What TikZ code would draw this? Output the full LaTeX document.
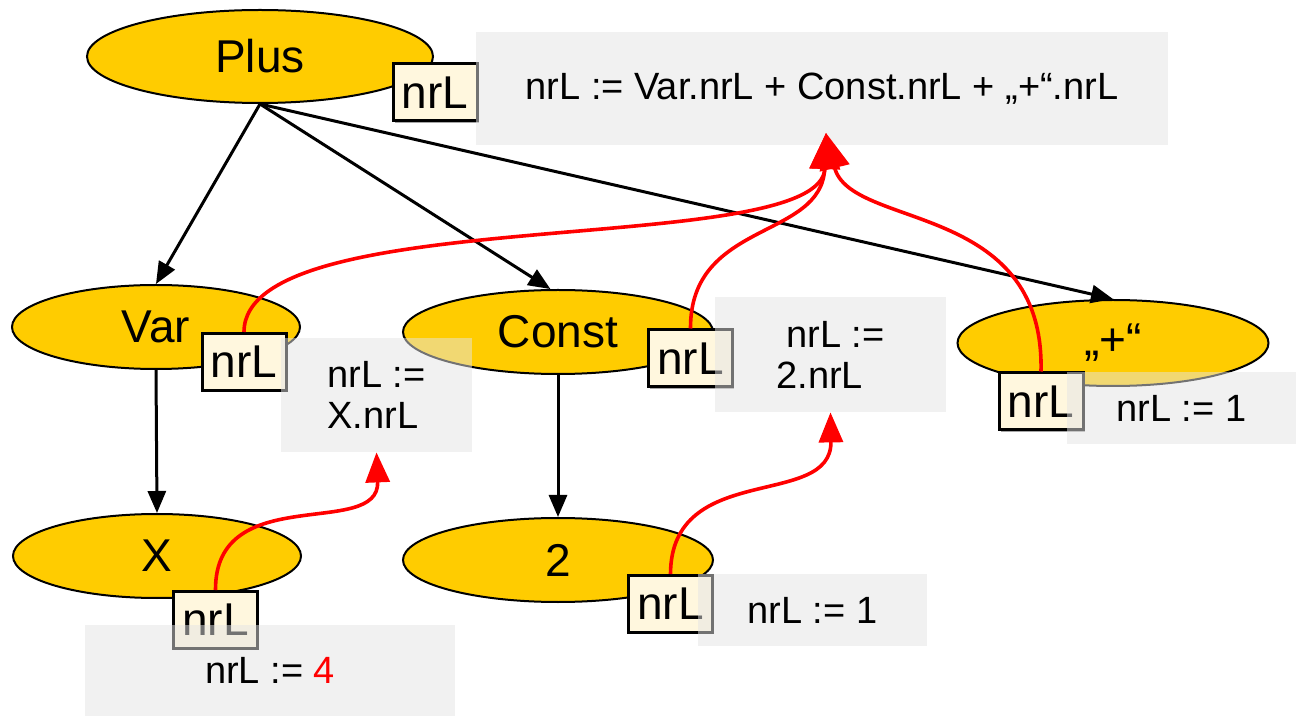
\documentclass[tikz,border=0pt]{standalone}
\usepackage{fontspec}
\setmainfont{Liberation Sans}
\usetikzlibrary{shapes.geometric,arrows.meta,shadows}
\definecolor{nodeyellow}{HTML}{FFCC00}
\definecolor{boxcream}{HTML}{FFF7DE}
\definecolor{notegray}{HTML}{E4E4E4}
\begin{document}
\begin{tikzpicture}[x=0.5pt,y=-0.5pt,
  ast/.style={ellipse, draw=black, line width=1pt, fill=nodeyellow, inner sep=0pt,
    font=\fontsize{23}{27}\selectfont},
  attr/.style={rectangle, draw=black, line width=1.5pt, fill=boxcream, inner sep=0pt,
    minimum width=42pt, minimum height=28.5pt, font=\fontsize{23}{27}\selectfont,
    drop shadow={shadow xshift=0.8pt, shadow yshift=-0.8pt, opacity=0.35, fill=black}},
  note/.style={rectangle, fill=notegray, fill opacity=0.5, text opacity=1, inner sep=0pt,
    font=\fontsize{19}{20.5}\selectfont},
  tree/.style={draw=black, line width=1.5pt, -{Triangle[length=11pt,width=9pt]}},
  flow/.style={draw=red, line width=1.8pt, -{Triangle[length=15pt,width=12pt]}},
  flowbig/.style={draw=red, line width=1.8pt, -{Triangle[length=18pt,width=15pt]}}]
\useasboundingbox (0,0) rectangle (1296,716);

% AST nodes
\node[ast, minimum width=173pt, minimum height=46.5pt] (Plus) at (260,56.5) {Plus};
\node[ast, minimum width=144pt, minimum height=42pt] (Var) at (156,327) {Var};
\node[ast, minimum width=155pt, minimum height=42pt] (Const) at (558,332) {Const};
\node[ast, minimum width=155.5pt, minimum height=43pt] (Quote) at (1113,343) {„+“};
\node[ast, minimum width=144pt, minimum height=42pt] (X) at (157,556) {X};
\node[ast, minimum width=155pt, minimum height=42pt] (Two) at (558,560) {2};

% tree edges
\draw[tree] (Plus.south) -- (Var.north);
\draw[tree] (Plus.south) -- (Const.100);
\draw[tree] (Plus.south) -- (Quote.north);
\draw[tree] (Var.south) -- (X.north);
\draw[tree] (Const.south) -- (Two.north);

% attribute boxes
\node[attr] (aPlus) at (435,92.5) {nrL};
\node[attr] (aV) at (244,362) {nrL};
\node[attr] (aC) at (690.5,358.5) {nrL};
\node[attr] (aQ) at (1041,401.5) {nrL};
\node[attr] (aX) at (215.5,620) {nrL};
\node[attr] (aTwo) at (670.5,604) {nrL};

% rule notes
\node[note, minimum width=346pt, minimum height=56.5pt] (gTop) at (822,88.5) {nrL := Var.nrL + Const.nrL + „+“.nrL};
\node[note, minimum width=95.5pt, minimum height=57pt, align=left] (gV) at (376.5,395) {nrL :=\\X.nrL};
\node[note, minimum width=115.5pt, minimum height=57.5pt, align=left] (gC) at (830.5,354.5) {\hspace*{5pt}nrL :=\\2.nrL};
\node[note, minimum width=114.5pt, minimum height=36pt] (gQ) at (1181.5,408) {nrL := 1};
\node[note, minimum width=185pt, minimum height=45.5pt] (gX) at (270,670.5) {nrL := \textcolor{red}{4}};
\node[note, minimum width=114.5pt, minimum height=36pt] (gTwo) at (812.5,610) {nrL := 1};

% attribute flow
\coordinate (tip) at (826,133);
\draw[flowbig] (aV.north) .. controls (244,200) and (822,260) .. (tip);
\draw[flowbig] (aC.north) .. controls (690,220) and (822,240) .. (tip);
\draw[flowbig] (aQ.north) .. controls (1045,200) and (850,230) .. (tip);
\draw[flow] (aX.north) .. controls (215,480) and (380,540) .. (gV.south);
\draw[flow] (aTwo.north) .. controls (671,460) and (832,510) .. (gC.south);
\end{tikzpicture}
\end{document}
